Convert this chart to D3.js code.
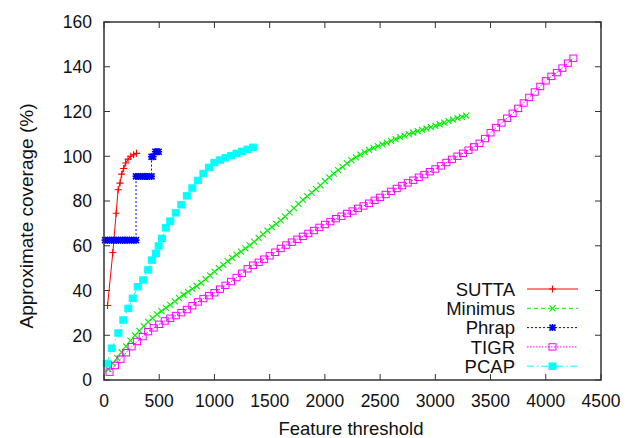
<!DOCTYPE html>
<html>
<head>
<meta charset="utf-8">
<script src="https://cdn.jsdelivr.net/npm/d3@7"></script>
<style>
  body { margin: 0; background: #fff; }
  svg text { font-family: "Liberation Sans", Arial, sans-serif; fill: #111; }
</style>
</head>
<body>
<div id="chart"></div>
<script>
// ---- data ----
const suttaX = [32, 80, 110, 128, 145, 160, 178, 196, 218, 242, 268, 295];
const suttaY = [33.3, 57, 74.5, 85, 88, 92, 94.5, 97, 98.7, 100, 100.7, 101.3];

const minimusX = [40, 80, 120, 160, 200, 240, 280, 320, 360, 400, 440, 480, 520, 560, 600, 640, 680, 720, 760, 800,
  840, 880, 920, 960, 1000, 1040, 1080, 1120, 1160, 1200, 1240, 1280, 1320, 1360, 1400, 1440, 1480, 1520, 1560, 1600,
  1640, 1680, 1720, 1760, 1800, 1840, 1880, 1920, 1960, 2000, 2040, 2080, 2120, 2160, 2200, 2240, 2280, 2320, 2360, 2400,
  2440, 2480, 2520, 2560, 2600, 2640, 2680, 2720, 2760, 2800, 2840, 2880, 2920, 2960, 3000, 3040, 3080, 3120, 3160, 3200,
  3240, 3280];
const minimusY = [4.8, 7.4, 9.9, 12.4, 15, 17.6, 19.9, 22, 24.1, 26, 27.7, 29.3, 30.8, 32.2, 33.6, 35.1, 36.6, 38.1, 39.4, 40.7,
  42, 43.4, 45.1, 46.8, 48.4, 50, 51.5, 53.1, 54.6, 56, 57.4, 58.8, 60.2, 61.8, 63.5, 65.1, 66.8, 68.3, 69.8, 71.3,
  73, 74.9, 76.8, 78.7, 80.5, 82.1, 83.7, 85.3, 87, 88.9, 90.6, 92.2, 93.8, 95.3, 96.8, 98.3, 99.5, 100.7, 101.8, 102.8,
  103.7, 104.5, 105.3, 106.1, 106.9, 107.7, 108.5, 109.2, 109.9, 110.5, 111.2, 111.8, 112.4, 113, 113.6, 114.3, 115, 115.7, 116.4, 117,
  117.6, 118.2];

const phrapX = [10, 30, 50, 70, 90, 110, 130, 150, 170, 190, 210, 230, 250, 270, 290,
  290, 310, 330, 350, 370, 390, 410, 430, 430, 445, 465, 480, 495];
const phrapY = [62.5, 62.5, 62.5, 62.5, 62.5, 62.5, 62.5, 62.5, 62.5, 62.5, 62.5, 62.5, 62.5, 62.5, 62.5,
  91, 91, 91, 91, 91, 91, 91, 91, 99.8, 99.8, 102, 102, 102];

const tigrX = [50, 100, 150, 200, 250, 300, 350, 400, 450, 500, 550, 600, 650, 700, 750, 800, 850, 900, 950, 1000,
  1050, 1100, 1150, 1200, 1250, 1300, 1350, 1400, 1450, 1500, 1550, 1600, 1650, 1700, 1750, 1800, 1850, 1900, 1950, 2000,
  2050, 2100, 2150, 2200, 2250, 2300, 2350, 2400, 2450, 2500, 2550, 2600, 2650, 2700, 2750, 2800, 2850, 2900, 2950, 3000,
  3050, 3100, 3150, 3200, 3250, 3300, 3350, 3400, 3450, 3500, 3550, 3600, 3650, 3700, 3750, 3800, 3850, 3900, 3950, 4000,
  4050, 4100, 4150, 4200, 4250];
const tigrY = [3.5, 6.5, 9.3, 12.2, 14.9, 17.2, 19.4, 21.6, 23.3, 24.9, 26.4, 27.6, 28.8, 30.1, 31.5, 33.2, 34.9, 36.4, 37.7, 39,
  40.6, 42.3, 44, 45.8, 47.7, 49.7, 51.3, 52.6, 54, 55.5, 57.1, 58.8, 60.3, 61.6, 62.9, 64.2, 65.5, 66.8, 68.2, 69.5,
  70.8, 72.1, 73.2, 74.4, 75.5, 76.7, 77.8, 79, 80.3, 81.6, 82.9, 84.3, 85.6, 86.9, 88.1, 89.3, 90.6, 91.8, 93.1, 94.3,
  95.7, 97.2, 98.6, 100, 101.3, 102.7, 104.2, 105.8, 107.9, 110.5, 112.8, 114.9, 117, 119.2, 121.4, 123.8, 126.3, 128.7, 131.2, 133.7,
  135.7, 137.4, 139.4, 141.6, 143.8];

const pcapX = [25, 70, 130, 175, 220, 260, 305, 355, 400, 435, 470, 495, 525, 560, 600, 650, 700, 750, 800, 850,
  900, 950, 1000, 1050, 1100, 1150, 1200, 1250, 1300, 1350];
const pcapY = [7.4, 14.2, 21, 26.8, 32, 36.5, 41.7, 44.7, 49.2, 53.6, 56.6, 59.9, 63.3, 68, 71, 74.7, 78.3, 82.3, 85.8, 89.2,
  92.3, 95, 97.2, 98.3, 99.3, 100.3, 101.3, 102.2, 103.1, 104];

const xTicks = [0, 500, 1000, 1500, 2000, 2500, 3000, 3500, 4000, 4500];
const yTicks = [0, 20, 40, 60, 80, 100, 120, 140, 160];

// ---- layout ----
const W = 634, H = 438;
const margin = {top: 22, right: 33, bottom: 58, left: 104};
const width = W - margin.left - margin.right,
      height = H - margin.top - margin.bottom;

const svg = d3.select("#chart").append("svg")
  .attr("width", W)
  .attr("height", H);

const g = svg.append("g")
  .attr("transform", "translate(" + margin.left + "," + margin.top + ")");

const x = d3.scaleLinear().domain([0, 4500]).range([0, width]);
const y = d3.scaleLinear().domain([0, 160]).range([height, 0]);

// marker shapes
const plus = "M-3.5,0H3.5M0,-3.5V3.5";
const cross = "M-3,-3L3,3M-3,3L3,-3";
const star = plus + cross;

const series = [
  {name: "SUTTA", xs: suttaX, ys: suttaY, color: "#ff0000", dash: null, mark: "plus"},
  {name: "Minimus", xs: minimusX, ys: minimusY, color: "#00ee00", dash: "4,3", mark: "cross"},
  {name: "Phrap", xs: phrapX, ys: phrapY, color: "#0000ff", dash: "2,2", mark: "star"},
  {name: "TIGR", xs: tigrX, ys: tigrY, color: "#ff00ff", dash: "1.5,1.5", mark: "box"},
  {name: "PCAP", xs: pcapX, ys: pcapY, color: "#00ffff", dash: "7,3,1.5,3", mark: "fbox"}
];

function drawMark(sel, mark, color) {
  if (mark === "box" || mark === "fbox") {
    sel.append("rect")
      .attr("x", -3.5).attr("y", -3.2)
      .attr("width", 7).attr("height", 6.4)
      .attr("fill", mark === "fbox" ? color : "none")
      .attr("stroke", color)
      .attr("stroke-width", 1);
  } else {
    sel.append("path")
      .attr("d", mark === "plus" ? plus : mark === "cross" ? cross : star)
      .attr("fill", "none")
      .attr("stroke", color)
      .attr("stroke-width", mark === "star" ? 1.6 : 1.1);
  }
}

const line = d3.line()
  .x(d => x(d[0]))
  .y(d => y(d[1]));

// ticks (gnuplot style, inward on all four sides)
const axisCol = "#333";
const tl = 6;
xTicks.forEach(t => {
  g.append("line").attr("x1", x(t)).attr("x2", x(t)).attr("y1", height).attr("y2", height - tl)
    .attr("stroke", axisCol);
  g.append("line").attr("x1", x(t)).attr("x2", x(t)).attr("y1", 0).attr("y2", tl)
    .attr("stroke", axisCol);
  g.append("text").attr("x", x(t)).attr("y", height + 27)
    .attr("text-anchor", "middle").style("font-size", "17.5px").text(t);
});
yTicks.forEach(t => {
  g.append("line").attr("x1", 0).attr("x2", tl).attr("y1", y(t)).attr("y2", y(t))
    .attr("stroke", axisCol);
  g.append("line").attr("x1", width).attr("x2", width - tl).attr("y1", y(t)).attr("y2", y(t))
    .attr("stroke", axisCol);
  g.append("text").attr("x", -12).attr("y", y(t)).attr("dy", "0.36em")
    .attr("text-anchor", "end").style("font-size", "17.5px").text(t);
});

// series
series.forEach(s => {
  const pts = s.xs.map((v, i) => [v, s.ys[i]]);
  g.append("path")
    .datum(pts)
    .attr("d", line)
    .attr("fill", "none")
    .attr("stroke", s.color)
    .attr("stroke-width", 1)
    .attr("stroke-dasharray", s.dash);
  const m = g.append("g").selectAll("g")
    .data(pts)
    .enter().append("g")
    .attr("transform", d => "translate(" + x(d[0]) + "," + y(d[1]) + ")");
  drawMark(m, s.mark, s.color);
});

// border
g.append("rect")
  .attr("width", width).attr("height", height)
  .attr("fill", "none").attr("stroke", axisCol).attr("stroke-width", 1.5);

// legend
const legend = g.selectAll(".legend")
  .data(series)
  .enter().append("g")
  .attr("class", "legend")
  .attr("transform", (d, i) => "translate(0," + (267 + i * 19.3) + ")");

legend.append("text")
  .attr("x", 411)
  .attr("dy", "0.36em")
  .attr("text-anchor", "end")
  .style("font-size", "18.5px")
  .text(d => d.name);

legend.append("line")
  .attr("x1", 423).attr("x2", 474)
  .attr("stroke", d => d.color)
  .attr("stroke-width", 1)
  .attr("stroke-dasharray", d => d.dash);

legend.each(function(d) {
  drawMark(d3.select(this).append("g").attr("transform", "translate(448.5,0)"), d.mark, d.color);
});

// axis titles
svg.append("text")
  .attr("x", 351)
  .attr("y", 435)
  .attr("text-anchor", "middle")
  .style("font-size", "18.5px")
  .text("Feature threshold");

svg.append("text")
  .attr("transform", "translate(33,216) rotate(-90)")
  .attr("text-anchor", "middle")
  .style("font-size", "19px")
  .text("Approximate coverage (%)");
</script>
</body>
</html>
